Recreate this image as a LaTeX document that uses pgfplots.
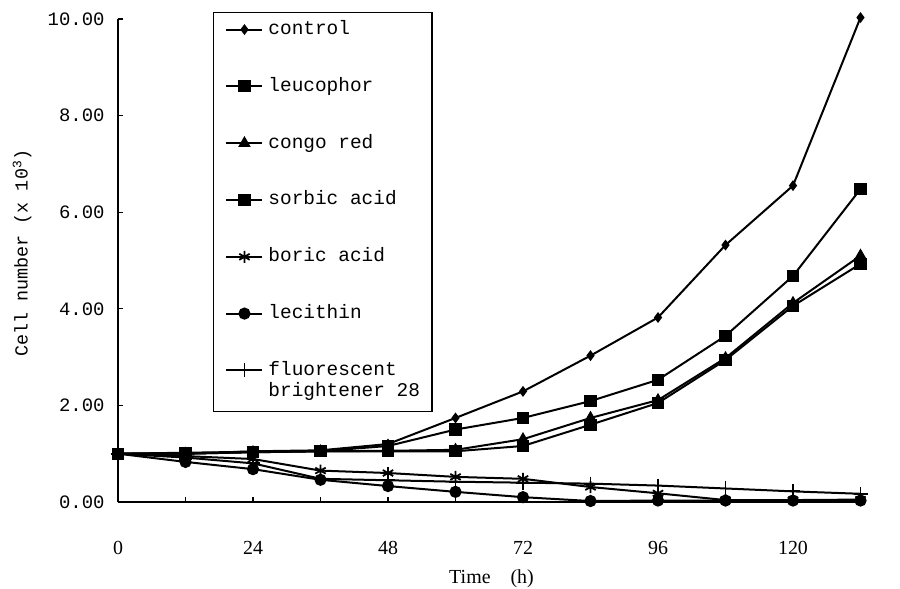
\documentclass[border=0pt]{standalone}
\usepackage{fontspec}
\setmainfont{Liberation Serif}
\setmonofont{Liberation Mono}
\usepackage{pgfplots}
\pgfplotsset{compat=1.18}

\pgfplotsset{
  growth/.style={black, line width=2bp, mark options={solid, fill=black, line width=1.2bp}},
  twoline legend/.style={
    legend image code/.code={
        \draw[mark repeat=2, mark phase=2, ##1] plot coordinates {(0bp,12bp) (18bp,12bp) (36bp,12bp)};
        \path[draw=none, fill=none] (0bp,-20bp) (41bp,20bp);
    }},
}

\begin{document}
\begin{tikzpicture}
\useasboundingbox (-118bp,-87bp) rectangle (782bp,502bp);
\begin{axis}[
    scale only axis,
    width=747bp, height=483bp,
    xmin=0, xmax=132.8, ymin=0, ymax=10,
    axis x line=bottom, axis y line=left,
    axis line style={-, line width=1.6bp},
    tick style={line width=1.2bp, black},
    major tick length=5bp,
    tick align=inside,
    xtick={0,12,...,132},
    xticklabels={0,,24,,48,,72,,96,,120,},
    ytick={0,2,...,10},
    /pgf/number format/assume math mode=true,
    yticklabel={\pgfmathprintnumber[fixed,fixed zerofill,precision=2]{\tick}},
    xticklabel style={font=\fontsize{20}{22}\selectfont, yshift=-36bp},
    yticklabel style={font=\fontsize{19}{20}\ttfamily, xshift=-10bp},
    every axis x label/.style={at={(axis description cs:0.5,0)}, yshift=-77bp, anchor=center},
    every axis y label/.style={at={(axis description cs:0,0.515)}, xshift=-96bp, rotate=90, anchor=center},
    xlabel={\fontsize{20}{22}\selectfont Time\quad (h)},
    ylabel={\fontsize{18.5}{20}\ttfamily Cell number (x 10\textsuperscript{3})},
    clip=false,
    legend cell align=left,
    legend style={
        at={(axis description cs:0.127,1.0145)}, anchor=north west,
        draw=black, line width=1.2bp,
        font=\fontsize{19.5}{23}\ttfamily,
        inner xsep=12bp, inner ysep=8bp,
        row sep=38.8bp,
        nodes={inner sep=0pt, text height=14bp, text depth=4bp},
    },
    legend image code/.code={
        \draw[mark repeat=2, mark phase=2, #1] plot coordinates {(0bp,0bp) (18bp,0bp) (36bp,0bp)};
        \path (41bp,0bp);
    },
]
% control
\addplot[growth, mark=diamond*, mark size=4.5bp] coordinates {
 (0,1.00) (12,1.00) (24,1.05) (36,1.07) (48,1.20) (60,1.74) (72,2.29) (84,3.03) (96,3.82) (108,5.32) (120,6.55) (132,10.03)
};
\addlegendentry{control}
% leucophor
\addplot[growth, mark=square*, mark size=5.5bp] coordinates {
 (0,1.00) (12,1.02) (24,1.04) (36,1.05) (48,1.16) (60,1.50) (72,1.74) (84,2.09) (96,2.53) (108,3.44) (120,4.68) (132,6.48)
};
\addlegendentry{leucophor}
% congo red
\addplot[growth, mark=triangle*, mark size=6bp] coordinates {
 (0,1.00) (12,1.00) (24,1.03) (36,1.05) (48,1.06) (60,1.08) (72,1.30) (84,1.74) (96,2.11) (108,2.98) (120,4.12) (132,5.10)
};
\addlegendentry{congo red}
% sorbic acid
\addplot[growth, mark=square*, mark size=5.5bp] coordinates {
 (0,1.00) (12,1.00) (24,1.03) (36,1.05) (48,1.05) (60,1.05) (72,1.16) (84,1.60) (96,2.05) (108,2.94) (120,4.06) (132,4.93)
};
\addlegendentry{sorbic acid}
% boric acid
\addplot[growth, mark=asterisk, mark size=6bp, mark options={line width=1.8bp}] coordinates {
 (0,1.00) (12,0.95) (24,0.89) (36,0.65) (48,0.60) (60,0.52) (72,0.48) (84,0.31) (96,0.18) (108,0.04) (120,0.04) (132,0.05)
};
\addlegendentry{boric acid}
% lecithin
\addplot[growth, mark=*, mark size=5.5bp] coordinates {
 (0,1.00) (12,0.83) (24,0.68) (36,0.46) (48,0.33) (60,0.21) (72,0.10) (84,0.02) (96,0.03) (108,0.03) (120,0.03) (132,0.03)
};
\addlegendentry{lecithin}
% fluorescent brightener 28
\addplot[growth, mark=+, mark size=7bp, mark options={line width=1.8bp}, twoline legend] coordinates {
 (0,1.00) (12,0.92) (24,0.80) (36,0.48) (48,0.45) (60,0.42) (72,0.40) (84,0.38) (96,0.34) (108,0.28) (120,0.22) (132,0.17)
};
\addlegendentry[text depth=28bp]{\begin{tabular}[t]{@{}l@{}}fluorescent\\[-2bp]brightener 28\end{tabular}}
\end{axis}
\end{tikzpicture}
\end{document}
